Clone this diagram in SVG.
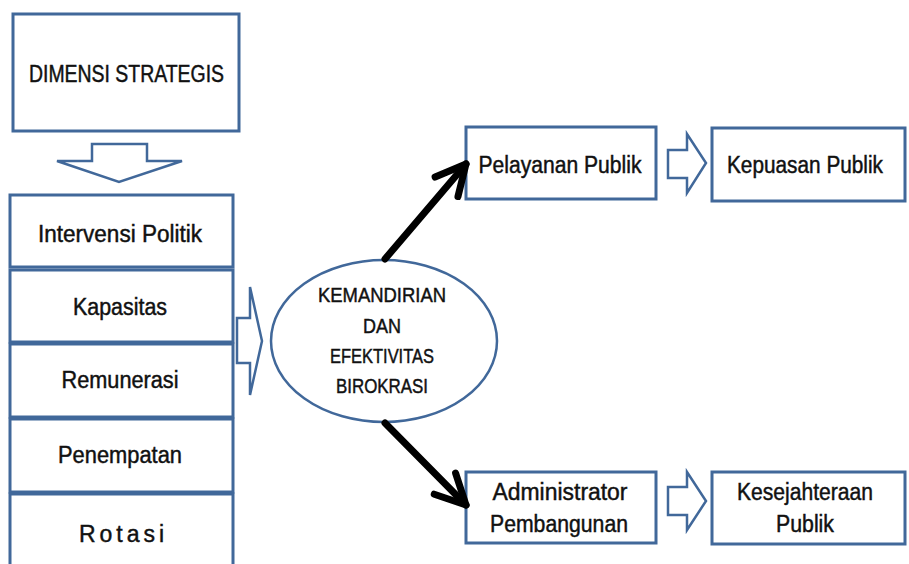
<svg xmlns="http://www.w3.org/2000/svg" width="909" height="564" viewBox="0 0 909 564">
<defs>
<style>
.box{fill:#fff;stroke:#41689a;stroke-width:3}
.blk{fill:#fff;stroke:#41689a;stroke-width:2.5;stroke-linejoin:miter}
.t{font-family:"Liberation Sans",Arial,sans-serif;font-size:23px;fill:#111;stroke:#111;stroke-width:0.45;text-anchor:middle}
.e{font-size:20.5px}
.conn{stroke:#000;stroke-width:7;fill:none;stroke-linecap:round}
</style>
<marker id="chev" markerUnits="userSpaceOnUse" viewBox="-40 -22 46 44" markerWidth="46" markerHeight="44" refX="0" refY="0" orient="auto" overflow="visible">
<path d="M-30,-15 L0,0 L-30,15" fill="none" stroke="#000" stroke-width="7" stroke-linecap="round" stroke-linejoin="round"/>
</marker>
</defs>
<rect width="909" height="564" fill="#fff"/>

<g id="dimensi">
<rect class="box" x="13" y="14" width="226" height="117"/>
<text class="t" x="126.5" y="82" textLength="195" lengthAdjust="spacingAndGlyphs">DIMENSI STRATEGIS</text>
</g>
<g id="arrow-down">
<polygon class="blk" points="92,144 147,144 147,161 182,161 119,182 57,161 92,161"/>
</g>

<g id="intervensi">
<rect class="box" x="10" y="195" width="223" height="72"/>
<text class="t" x="120" y="242" textLength="164" lengthAdjust="spacingAndGlyphs">Intervensi Politik</text>
</g>
<g id="kapasitas">
<rect class="box" x="10" y="270" width="223" height="72"/>
<text class="t" x="120" y="315" textLength="94" lengthAdjust="spacingAndGlyphs">Kapasitas</text>
</g>
<g id="remunerasi">
<rect class="box" x="10" y="344" width="223" height="73"/>
<text class="t" x="120" y="388" textLength="117" lengthAdjust="spacingAndGlyphs">Remunerasi</text>
</g>
<g id="penempatan">
<rect class="box" x="10" y="419" width="223" height="73"/>
<text class="t" x="120" y="463" textLength="124" lengthAdjust="spacingAndGlyphs">Penempatan</text>
</g>
<g id="rotasi">
<rect class="box" x="10" y="494" width="223" height="90"/>
<text class="t" x="121.5" y="542" textLength="85" lengthAdjust="spacing">R o t a s i</text>
</g>

<g id="arrow-right">
<polygon class="blk" points="237,318 250,318 250,287 262,341 250,395 250,363 237,363"/>
</g>

<g id="kemandirian">
<ellipse cx="384" cy="341" rx="113" ry="81" fill="#fff" stroke="#41689a" stroke-width="2.5"/>
<text class="t e" x="382" y="302" textLength="128" lengthAdjust="spacingAndGlyphs">KEMANDIRIAN</text>
<text class="t e" x="382" y="333" textLength="38" lengthAdjust="spacingAndGlyphs">DAN</text>
<text class="t e" x="382" y="363" textLength="104" lengthAdjust="spacingAndGlyphs">EFEKTIVITAS</text>
<text class="t e" x="382" y="393" textLength="92" lengthAdjust="spacingAndGlyphs">BIROKRASI</text>
</g>

<g id="pelayanan">
<rect class="box" x="466" y="127" width="190" height="72"/>
<text class="t" x="560" y="173" textLength="163" lengthAdjust="spacingAndGlyphs">Pelayanan Publik</text>
</g>
<g id="arrow-top">
<polygon class="blk" points="668,150 687,150 687,134 706,163 687,193 687,178 668,178"/>
</g>
<g id="kepuasan">
<rect class="box" x="712" y="128" width="193" height="73"/>
<text class="t" x="805" y="173" textLength="156" lengthAdjust="spacingAndGlyphs">Kepuasan Publik</text>
</g>

<g id="administrator">
<rect class="box" x="466" y="472" width="190" height="71"/>
<text class="t" x="560" y="500" textLength="135" lengthAdjust="spacingAndGlyphs">Administrator</text>
<text class="t" x="559" y="532" textLength="138" lengthAdjust="spacingAndGlyphs">Pembangunan</text>
</g>
<g id="arrow-bottom">
<polygon class="blk" points="668,487 687,487 687,472 706,501 687,530 687,515 668,515"/>
</g>
<g id="kesejahteraan">
<rect class="box" x="712" y="472" width="193" height="72"/>
<text class="t" x="805" y="500" textLength="136" lengthAdjust="spacingAndGlyphs">Kesejahteraan</text>
<text class="t" x="805" y="532" textLength="58" lengthAdjust="spacingAndGlyphs">Publik</text>
</g>

<g id="connectors">
<line class="conn" x1="385" y1="259" x2="466" y2="164" marker-end="url(#chev)"/>
<line class="conn" x1="385" y1="423" x2="466" y2="505" marker-end="url(#chev)"/>
</g>
</svg>
